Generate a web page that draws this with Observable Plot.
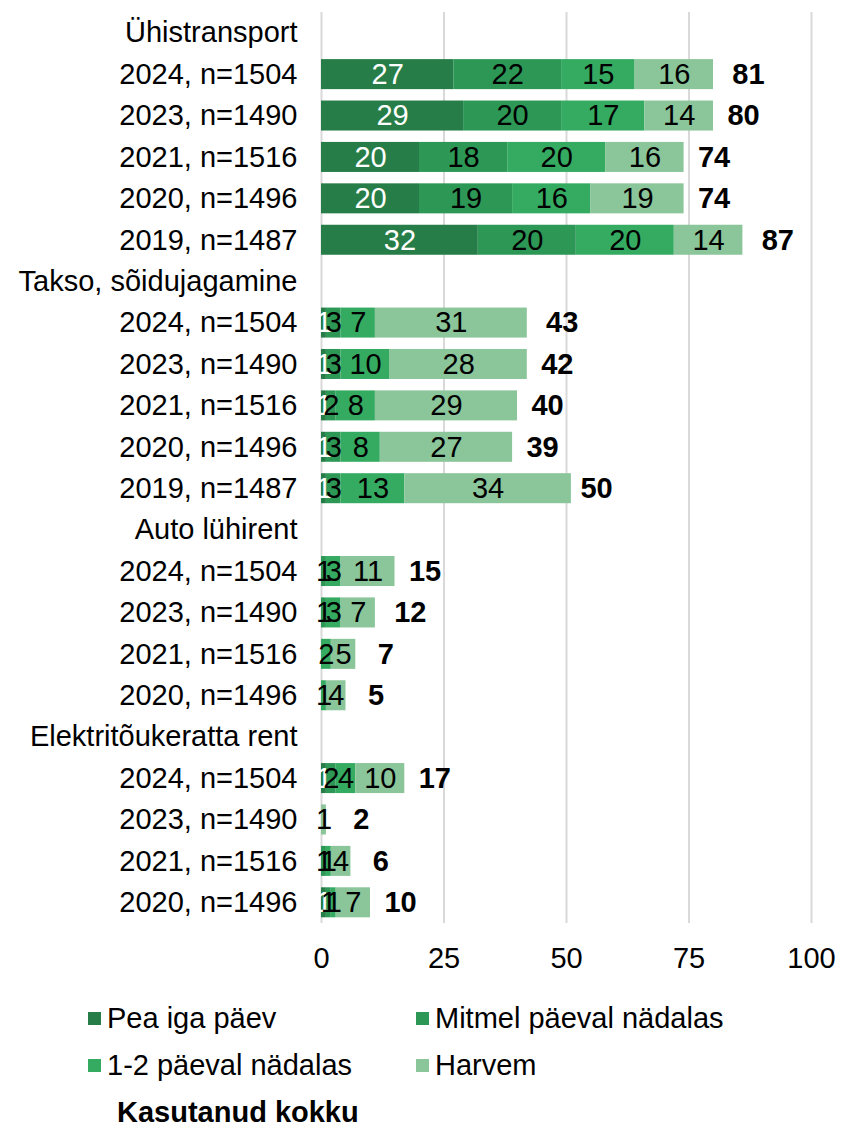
<!DOCTYPE html>
<html>
<head>
<meta charset="utf-8">
<script src="https://cdn.jsdelivr.net/npm/d3@7"></script>
<script src="https://cdn.jsdelivr.net/npm/@observablehq/plot@0.6"></script>
<style>
  body { margin: 0; background: #fff; font-family: "Liberation Sans", Arial, sans-serif; }
  #chart svg { display: block; }
  .legend { position: relative; width: 841px; height: 144px; font-size: 29px; color: #000; }
  .item { position: absolute; display: flex; align-items: center; height: 40px; white-space: nowrap; }
  .sw { width: 13px; height: 13px; margin-right: 6px; display: inline-block; }
</style>
</head>
<body>
<div id="chart"></div>
<div class="legend" id="legend"></div>
<script>
const groups = ["Ühistransport", "Takso, sõidujagamine", "Auto lühirent", "Elektritõukeratta rent"];
const groupRows = [
  ["2024, n=1504", "2023, n=1490", "2021, n=1516", "2020, n=1496", "2019, n=1487"],
  ["2024, n=1504", "2023, n=1490", "2021, n=1516", "2020, n=1496", "2019, n=1487"],
  ["2024, n=1504", "2023, n=1490", "2021, n=1516", "2020, n=1496"],
  ["2024, n=1504", "2023, n=1490", "2021, n=1516", "2020, n=1496"]
];
const categories = ["Pea iga päev", "Mitmel päeval nädalas", "1-2 päeval nädalas", "Harvem"];
const colors = ["#277d47", "#2d9756", "#35ab62", "#8bc59a"];
const totalLabel = "Kasutanud kokku";

// values in row order (groups, then rows)
const peaIgaPaev       = [27, 29, 20, 20, 32,   1, 1, 1, 1, 1,    0, 0, 0, 0,   1, 0, 0, 1];
const mitmelPaeval     = [22, 20, 18, 19, 20,   3, 3, 2, 3, 3,    1, 1, 0, 0,   2, 0, 1, 1];
const paeval12         = [15, 17, 20, 16, 20,   7, 10, 8, 8, 13,  3, 3, 2, 1,   4, 0, 1, 1];
const harvem           = [16, 14, 16, 19, 14,   31, 28, 29, 27, 34, 11, 7, 5, 4, 10, 1, 4, 7];
const kasutanudKokku   = [81, 80, 74, 74, 87,   43, 42, 40, 39, 50, 15, 12, 7, 5, 17, 2, 6, 10];

const series = [peaIgaPaev, mitmelPaeval, paeval12, harvem];

// Build y domain (group headers + rows) and tables
const domain = [];
const rowKeys = [];
groups.forEach((g, gi) => {
  domain.push(g);
  groupRows[gi].forEach(r => { const k = g + "|" + r; domain.push(k); rowKeys.push(k); });
});

const segs = [];
rowKeys.forEach((k, i) => {
  categories.forEach((c, ci) => {
    segs.push({key: k, category: c, ci, value: series[ci][i]});
  });
});
const totals = rowKeys.map((k, i) => ({key: k, total: kasutanudKokku[i]}));

const W = 841, H = 983;
const chart = Plot.plot({
  width: W,
  height: H,
  marginLeft: 321,
  marginRight: 30,
  marginTop: 12,
  marginBottom: 60,
  style: {fontFamily: "'Liberation Sans', Arial, sans-serif", fontSize: "29px", color: "#000", background: "#fff"},
  x: {domain: [0, 100], ticks: [0, 25, 50, 75, 100], tickSize: 0, tickPadding: 24, label: null},
  y: {domain, padding: 0, round: false, tickSize: 0, tickPadding: 24, label: null,
      tickFormat: d => d.includes("|") ? d.split("|")[1] : d},
  color: {type: "identity"},
  marks: [
    Plot.ruleX([0, 25, 50, 75, 100], {stroke: "#d9d9d9", strokeWidth: 2}),
    Plot.barX(segs, Plot.stackX({
      x: "value", y: "key", z: "category", order: categories,
      fill: d => colors[d.ci], insetTop: 5.7, insetBottom: 5.7
    })),
    Plot.text(segs, Plot.stackX({
      x: "value", y: "key", z: "category", order: categories,
      text: d => d.value > 0 ? String(d.value) : "",
      fill: d => d.ci === 0 ? "#ffffff" : "#000000",
      fontSize: 29
    })),
    Plot.text(totals, {x: "total", y: "key", text: d => String(d.total), dx: 30,
      textAnchor: "middle", fontWeight: "bold", fontSize: 29, fill: "#000000"})
  ]
});
document.getElementById("chart").appendChild(chart);

// Legend
const legend = document.getElementById("legend");
const pos = [[88, 15], [416, 15], [88, 62], [416, 62]];
categories.forEach((c, i) => {
  const it = document.createElement("div");
  it.className = "item";
  it.style.left = pos[i][0] + "px";
  it.style.top = pos[i][1] + "px";
  const sw = document.createElement("span");
  sw.className = "sw";
  sw.style.background = colors[i];
  const t = document.createElement("span");
  t.textContent = c;
  it.appendChild(sw); it.appendChild(t);
  legend.appendChild(it);
});
const tot = document.createElement("div");
tot.className = "item";
tot.style.left = "117px";
tot.style.top = "109px";
tot.style.fontWeight = "bold";
tot.textContent = totalLabel;
legend.appendChild(tot);
</script>
</body>
</html>
